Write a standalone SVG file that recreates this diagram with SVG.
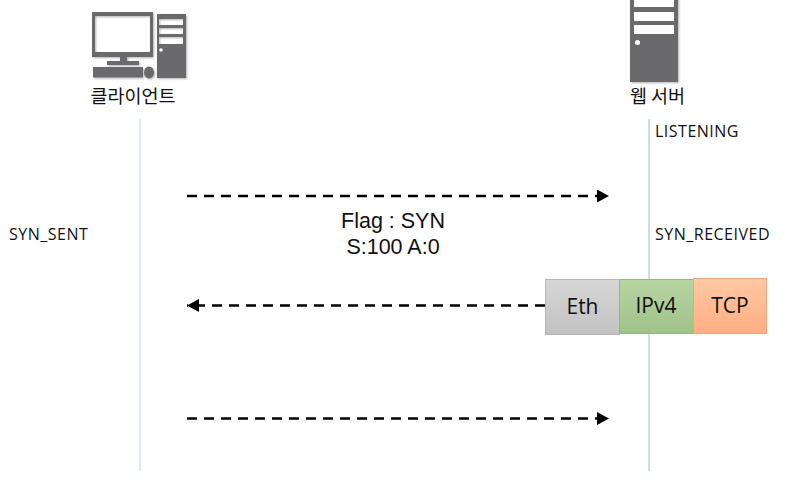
<svg xmlns="http://www.w3.org/2000/svg" width="786" height="489" viewBox="0 0 786 489">
<style>
text{font-family:"Open Sans","Noto Sans","Noto Sans CJK KR",sans-serif;fill:#111}
.ko{font-family:"Noto Sans CJK KR",sans-serif;font-size:18.500px;text-anchor:middle}
.s{font-size:16px;letter-spacing:.5px}
.m{font-family:"Liberation Sans",sans-serif;font-size:21.500px;text-anchor:middle}
.b{font-size:21px;text-anchor:middle}
.box{stroke-width:1}
.life{stroke-width:1;fill:none}
.dash{stroke:#000;stroke-width:2.600;stroke-dasharray:10 7;fill:none}
.g{fill:#6a6a6c}.w{fill:#fff}
</style>
<defs>
<linearGradient id="ge" x1="0" y1="0" x2="0" y2="1"><stop offset="0" stop-color="#d6d6d6"/><stop offset="1" stop-color="#c2c2c2"/></linearGradient>
<linearGradient id="gi" x1="0" y1="0" x2="0" y2="1"><stop offset="0" stop-color="#b8d4a4"/><stop offset="1" stop-color="#9fc388"/></linearGradient>
<linearGradient id="gt" x1="0" y1="0" x2="0" y2="1"><stop offset="0" stop-color="#ffc8a4"/><stop offset="1" stop-color="#ffae84"/></linearGradient>
<filter id="sh" x="-10%" y="-10%" width="125%" height="125%"><feDropShadow dx="1" dy="1" stdDeviation="1" flood-color="#000" flood-opacity=".3"/></filter>
<marker id="ah" viewBox="0 0 12 13" refX="12" refY="6.500" markerWidth="12" markerHeight="13" markerUnits="userSpaceOnUse" orient="auto-start-reverse"><path d="M0 0L12 6.500L0 13Z" fill="#000"/></marker>
</defs>
<g id="connectors">
<line class="life" x1="140" y1="119" x2="140" y2="471" stroke="#c5dbe4"/>
<line class="life" x1="649" y1="119" x2="649" y2="471" stroke="#9fb9c6"/>
<line class="dash" x1="187" y1="196" x2="609" y2="196" marker-end="url(#ah)"/>
<line class="dash" x1="545" y1="305.500" x2="187" y2="305.500" marker-end="url(#ah)"/>
<line class="dash" x1="187" y1="418.500" x2="609" y2="418.500" marker-end="url(#ah)"/>
</g>
<g id="client">
<g filter="url(#sh)">
<path class="g" fill-rule="evenodd" d="M92 12H153V57H127V61H139V65H107V61H120V57H92ZM95 16V52H150V16Z"/>
<rect class="g" x="93" y="67" width="50" height="10.500"/>
<ellipse class="g" cx="149" cy="72.500" rx="5" ry="6"/>
<path class="g" fill-rule="evenodd" d="M157 14H186V78H157ZM159 19V25H183V19ZM159 28V34H183V28ZM159 37V44H183V37Z"/>
</g>
<circle class="w" cx="161" cy="50" r="1.800"/>
<text class="ko" x="133" y="103">클라이언트</text>
</g>
<g id="server">
<rect class="g" x="630" y="-4" width="48" height="86" filter="url(#sh)"/>
<rect class="w" x="634" y="0" width="40" height="7"/>
<rect class="w" x="634" y="12" width="40" height="9"/>
<rect class="w" x="634" y="25" width="40" height="9"/>
<circle class="w" cx="637.500" cy="42.500" r="2.500"/>
<text class="ko" x="657.500" y="103">웹 서버</text>
</g>
<g id="labels">
<text class="s" x="655" y="136.500">LISTENING</text>
<text class="s" x="655" y="239.500">SYN_RECEIVED</text>
<text class="s" x="9" y="239.500">SYN_SENT</text>
<text class="m" x="393" y="228">Flag : SYN</text>
<text class="m" x="393" y="254">S:100 A:0</text>
</g>
<g id="eth"><rect class="box" x="545.500" y="279.500" width="74" height="55" fill="url(#ge)" stroke="#b5b5b5"/><text class="b" x="582.500" y="314">Eth</text></g>
<g id="ipv4"><rect class="box" x="619.500" y="279.500" width="74" height="54" fill="url(#gi)" stroke="#94b97e"/><text class="b" x="656" y="313">IPv4</text></g>
<g id="tcp"><rect class="box" x="693.500" y="278.500" width="73" height="55" fill="url(#gt)" stroke="#eda57e"/><text class="b" x="730" y="313">TCP</text></g>
</svg>
